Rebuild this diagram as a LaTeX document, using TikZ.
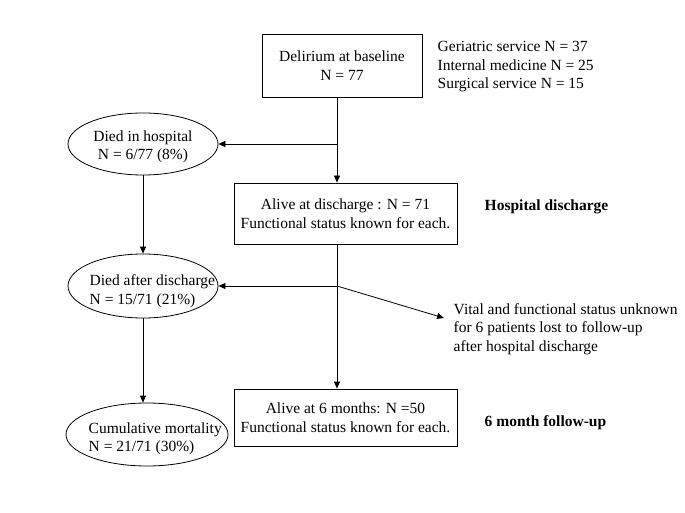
\documentclass[tikz,border=0pt]{standalone}
\usepackage{fontspec}
\setmainfont{Liberation Serif}
\usepackage{tikz}
\usetikzlibrary{positioning}
\usetikzlibrary{shapes.geometric,arrows.meta}

\begin{document}
\begin{tikzpicture}[x=1pt,y=-1pt,>={Triangle[length=7pt,width=6pt]},line width=0.8pt,
  every node/.style={font=\fontsize{15.5}{18.5}\selectfont},
  box/.style={draw,rectangle,align=center,inner sep=0pt,minimum width=223pt},
  oval/.style={draw,ellipse,inner sep=0pt},
  lbl/.style={anchor=west,font=\fontsize{15.5}{18.5}\selectfont\bfseries}]
  \useasboundingbox (0,0) rectangle (685,513);
  % main column
  \node[box,minimum width=160pt,minimum height=63pt] (base) at (342,65.5) {Delirium at baseline\\N = 77};
  \node[anchor=west,align=left] (serv) at (434,67) {Geriatric service N = 37\\Internal medicine N = 25\\Surgical service N = 15};
  \node[box,minimum height=61pt] (dis) at (345.5,213.5) {Alive at discharge : N = 71\\Functional status known for each.};
  \node[box,minimum height=57pt] (fol) at (345.5,417.5) {Alive at 6 months: N =50\\Functional status known for each.};
  % mortality column
  \node[oval,minimum width=150pt,minimum height=62pt] (hosp) at (143,144) {};
  \node[align=center] (hospTxt) at (143,147) {Died in hospital\\N = 6/77 (8\%)};
  \node[oval,minimum width=150pt,minimum height=64pt] (after) at (143,286) {};
  \node[anchor=west,align=left] (afterTxt) at (86,291) {Died after discharge\\N = 15/71 (21\%)};
  \node[oval,minimum width=162pt,minimum height=63pt] (cum) at (147,434.5) {};
  \node[anchor=west,align=left] (cumTxt) at (85,439) {Cumulative mortality\\N = 21/71 (30\%)};
  % side texts
  \node[lbl] (hdLbl) at (481,207) {Hospital discharge};
  \node[lbl] (fuLbl) at (481,423) {6 month follow-up};
  \node[anchor=west,align=left] (lost) at (450,329) {Vital and functional status unknown\\for 6 patients lost to follow-up\\after hospital discharge};
  % connectors
  \coordinate (split1) at (337,144);
  \coordinate (split2) at (337,286);
  \draw (base.south -| split1) -- (split1);
  \draw[->] (split1) -- (hosp.east);
  \draw[->] (split1) -- (dis.north -| split1);
  \draw (dis.south -| split2) -- (split2);
  \draw[->] (split2) -- (after.east);
  \draw[->] (split2) -- ([xshift=-6pt,yshift=11pt]lost.west);
  \draw[->] (split2) -- (fol.north -| split2);
  \draw[->] (hosp.south) -- (after.north);
  \draw[->] (after.south) -- (cum.north -| after.south);
\end{tikzpicture}
\end{document}
